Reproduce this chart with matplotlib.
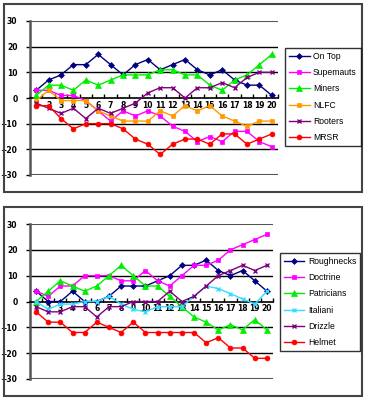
import matplotlib
matplotlib.use("Agg")
import matplotlib.pyplot as plt
from matplotlib.patches import Rectangle

rounds = list(range(1, 21))

# top chart
top_names = ["On Top", "Supemauts", "Miners", "NLFC", "Rooters", "MRSR"]
on_top = [3, 7, 9, 13, 13, 17, 13, 9, 13, 15, 11, 13, 15, 11, 9, 11, 7, 5, 5, 1]
supemauts = [3, 3, 1, 1, -1, -5, -9, -5, -7, -5, -7, -11, -13, -17, -15, -17, -13, -13, -17, -19]
miners = [1, 5, 5, 3, 7, 5, 7, 9, 9, 9, 11, 11, 9, 9, 5, 3, 7, 9, 13, 17]
nlfc = [-1, 3, -1, -1, -1, -5, -7, -9, -9, -9, -5, -7, -3, -5, -3, -7, -9, -11, -9, -9]
rooters = [-2, -4, -6, -4, -8, -4, -6, -4, -2, 2, 4, 4, 0, 4, 4, 6, 4, 8, 10, 10]
mrsr = [-3, -3, -8, -12, -10, -10, -10, -12, -16, -18, -22, -18, -16, -16, -18, -14, -14, -18, -16, -14]

# bottom chart
bottom_names = ["Roughnecks", "Doctrine", "Patricians", "Italiani", "Drizzle", "Helmet"]
roughnecks = [4, 0, 0, 4, 0, 0, 2, 6, 6, 6, 8, 10, 14, 14, 16, 12, 10, 12, 8, 4]
doctrine = [4, 2, 6, 6, 10, 10, 10, 8, 8, 12, 8, 6, 10, 14, 14, 16, 20, 22, 24, 26]
patricians = [0, 4, 8, 6, 4, 6, 10, 14, 10, 6, 6, 2, -2, -6, -8, -11, -9, -11, -7, -11]
italiani = [0, -3, -1, -1, 0, 0, 2, -1, -3, -4, -2, -2, -2, 2, 6, 5, 3, 1, -1, 4]
drizzle = [-2, -4, -4, -2, -2, -6, -2, -2, 0, 0, 0, 4, 0, 2, 6, 10, 12, 14, 12, 14]
helmet = [-4, -8, -8, -12, -12, -8, -10, -12, -8, -12, -12, -12, -12, -12, -16, -14, -18, -18, -22, -22]

colors = ["#000080", "#ff00ff", "#00ee00", "#ff9900", "#800080", "#ff0000"]
colors_b = ["#000080", "#ff00ff", "#00ee00", "#33ddff", "#800080", "#ff0000"]
markers = ["D", "s", "^", "s", "x", "o"]
markers_b = ["D", "s", "^", "x", "x", "o"]
msizes = [3, 3.5, 4, 3.5, 3.5, 3.5]

W, H = 367, 400
fig = plt.figure(figsize=(W / 100, H / 100), dpi=100)
legfont = {"family": ["Liberation Sans", "DejaVu Sans"], "size": 6.2}


def frac(x0, y0, x1, y1):
    return [x0 / W, 1 - y1 / H, (x1 - x0) / W, (y1 - y0) / H]


def draw_chart(rect, frame, series, names, cols, mks, leg_center):
    fig.patches.append(Rectangle((frame[0] / W, 1 - frame[3] / H), (frame[2] - frame[0]) / W,
                                 (frame[3] - frame[1]) / H, transform=fig.transFigure,
                                 fill=False, edgecolor="#444444", linewidth=1.5))
    ax = fig.add_axes(rect)
    for v in [10, 20, -10, -20]:
        ax.axhline(v, color="black", linewidth=1.0, zorder=1)
    for v in [30, -30]:
        ax.axhline(v, color="#555555", linewidth=1.5, zorder=1)
    for vals, nm, c, m, ms in zip(series, names, cols, mks, msizes):
        ax.plot(rounds, vals, color=c, marker=m, markersize=ms, linewidth=1.0,
                markeredgewidth=1.0 if m == "x" else 0.5, label=nm, zorder=3)
    ax.set_xlim(0.5, 20.5)
    ax.set_ylim(-30, 30)
    ax.set_yticks([-30, -20, -10, 0, 10, 20, 30])
    ax.set_xticks(rounds)
    ax.set_xticks([r + 0.5 for r in range(0, 21)], minor=True)
    for s in ["top", "right"]:
        ax.spines[s].set_visible(False)
    ax.spines["bottom"].set_position(("data", 0))
    ax.spines["bottom"].set_linewidth(1.2)
    ax.spines["left"].set_color("#555555")
    ax.spines["left"].set_linewidth(1.8)
    ax.tick_params(axis="x", which="major", length=0, pad=2, labelsize=5.5)
    ax.tick_params(axis="x", which="minor", length=3, direction="in", width=1)
    ax.tick_params(axis="y", length=3, width=1, direction="out", labelsize=5.5, pad=6)
    for lab in ax.get_xticklabels() + ax.get_yticklabels():
        lab.set_fontweight("bold")
    ax.set_facecolor("none")
    leg = fig.legend(*ax.get_legend_handles_labels(), loc="center", bbox_to_anchor=leg_center,
                     prop=legfont, frameon=True, fancybox=False, edgecolor="black",
                     handlelength=2.4, handletextpad=0.4, labelspacing=0.85,
                     borderpad=0.45, borderaxespad=0)
    leg.get_frame().set_linewidth(1.0)
    return ax


draw_chart(frac(30, 21, 278, 175), (4, 4, 362, 192),
           [on_top, supemauts, miners, nlfc, rooters, mrsr], top_names, colors, markers,
           (322.8 / W, 1 - 97 / H))
draw_chart(frac(30, 224, 273, 379), (4, 207, 362, 396),
           [roughnecks, doctrine, patricians, italiani, drizzle, helmet], bottom_names,
           colors_b, markers_b, (320 / W, 1 - 302 / H))

plt.savefig("out.png", dpi=100)
